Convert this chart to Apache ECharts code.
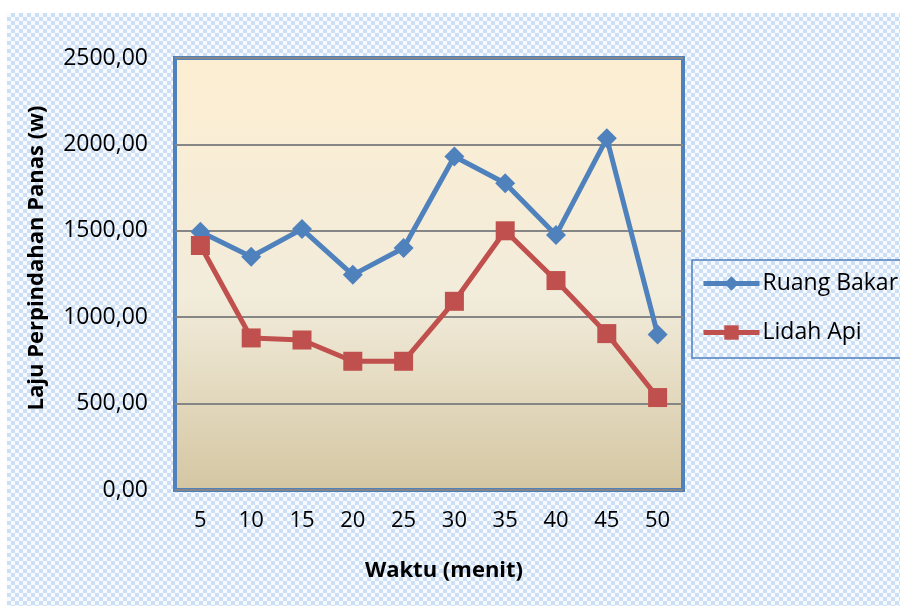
<!DOCTYPE html>
<html>
<head>
<meta charset="utf-8">
<script src="https://cdn.jsdelivr.net/npm/echarts@6/dist/echarts.min.js"></script>
<style>
    html, body { margin: 0; padding: 0; background: #fff; }
    #wrap { position: relative; width: 900px; height: 606px; overflow: hidden; }
    #bg {
        position: absolute; left: 7px; top: 13px; right: 0; bottom: 0;
        background-image: conic-gradient(#cddff5 25%, #f7faff 0 50%, #cddff5 0 75%, #f7faff 0);
        background-size: 8px 8px;
    }
    #chart { position: absolute; left: 0; top: 0; width: 900px; height: 606px; }
</style>
</head>
<body>
<div id="wrap">
    <div id="bg"></div>
    <div id="chart"></div>
</div>
<script>
    const waktu = ['5', '10', '15', '20', '25', '30', '35', '40', '45', '50'];
    const ruangBakar = [1495, 1350, 1510, 1245, 1400, 1930, 1775, 1475, 2035, 900];
    const lidahApi = [1415, 880, 868, 745, 745, 1092, 1500, 1212, 905, 535];

    const fontName = '"Open Sans", "Noto Sans", sans-serif';

    let chart = echarts.init(document.getElementById('chart'));

    let option = {
        backgroundColor: 'transparent',
        textStyle: { fontFamily: fontName },
        grid: {
            left: 175,
            right: 217,
            top: 58,
            bottom: 116,
            show: true,
            borderColor: '#4f81bd',
            borderWidth: 4,
            backgroundColor: new echarts.graphic.LinearGradient(0, 0, 0, 1, [
                { offset: 0, color: '#fdeed2' },
                { offset: 0.55, color: '#f2ecdb' },
                { offset: 1, color: '#d4c6a2' }
            ])
        },
        legend: {
            orient: 'vertical',
            left: 692,
            top: 260,
            padding: [12, 10, 14, 9],
            itemGap: 26,
            itemWidth: 56,
            itemHeight: 18,
            borderColor: '#4f81bd',
            borderWidth: 1.5,
            lineStyle: { width: 5 },
            textStyle: { fontSize: 23, color: '#000', fontFamily: fontName, padding: [0, 0, 0, -2] },
            data: ['Ruang Bakar', 'Lidah Api']
        },
        xAxis: {
            type: 'category',
            data: waktu,
            boundaryGap: true,
            name: 'Waktu (menit)',
            nameLocation: 'middle',
            nameGap: 70,
            nameTextStyle: { fontSize: 22, fontWeight: 'bold', color: '#000', padding: [0, 0, 0, 30] },
            axisLine: { show: false },
            axisTick: { show: false },
            axisLabel: { fontSize: 22, color: '#000', margin: 20 }
        },
        yAxis: {
            type: 'value',
            min: 0,
            max: 2500,
            interval: 500,
            name: 'Laju Perpindahan Panas (w)',
            nameLocation: 'middle',
            nameGap: 127,
            nameTextStyle: { fontSize: 22, fontWeight: 'bold', color: '#000', padding: [0, 0, 0, 32] },
            axisLine: { show: false },
            axisTick: { show: false },
            axisLabel: {
                fontSize: 23,
                color: '#000',
                margin: 27,
                formatter: (v) => v.toFixed(2).replace('.', ',')
            },
            splitLine: { lineStyle: { color: '#868686', width: 2 } }
        },
        series: [
            {
                name: 'Ruang Bakar',
                type: 'line',
                data: ruangBakar,
                symbol: 'diamond',
                symbolSize: 20,
                color: '#4f81bd',
                lineStyle: { width: 5, color: '#4f81bd' },
                itemStyle: { color: '#4f81bd' }
            },
            {
                name: 'Lidah Api',
                type: 'line',
                data: lidahApi,
                symbol: 'rect',
                symbolSize: 19,
                color: '#c0504d',
                lineStyle: { width: 5, color: '#c0504d' },
                itemStyle: { color: '#c0504d' }
            }
        ]
    };

    chart.setOption(option);
</script>
</body>
</html>
